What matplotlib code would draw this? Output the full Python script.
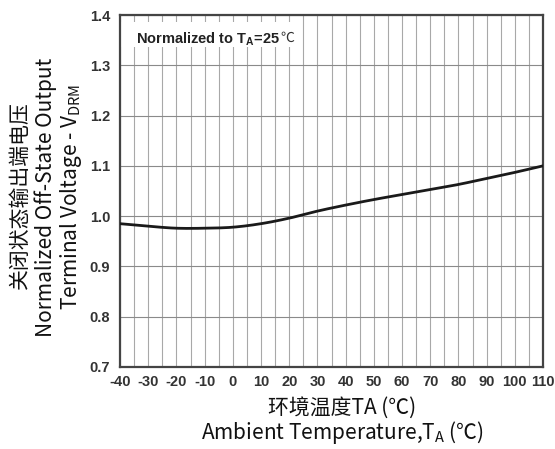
import matplotlib
matplotlib.use("Agg")
import matplotlib.pyplot as plt
from matplotlib.patches import Rectangle
import numpy as np

temps = [-40, -30, -20, -10, 0, 10, 20, 30, 40, 50, 60, 70, 80, 90, 100, 110]
vdrm = [0.985, 0.980, 0.976, 0.976, 0.978, 0.985, 0.996, 1.010, 1.022, 1.033, 1.043, 1.053, 1.063, 1.075, 1.087, 1.100]
xticks = list(range(-40, 111, 10))
yticks = [0.7, 0.8, 0.9, 1.0, 1.1, 1.2, 1.3, 1.4]

plt.rcParams['axes.unicode_minus'] = False
plt.rcParams['mathtext.fontset'] = 'custom'
plt.rcParams['mathtext.rm'] = 'Noto Sans'
plt.rcParams['mathtext.it'] = 'Noto Sans'
plt.rcParams['mathtext.bf'] = 'Liberation Sans:bold'

fig = plt.figure(figsize=(5.55, 4.49), dpi=100)
ax = fig.add_axes([120/555, 1-367/449, (543-120)/555, (367-15)/449])

def hermite(x, y, xs):
    x = np.asarray(x, float); y = np.asarray(y, float)
    out = np.empty_like(xs)
    m = np.gradient(y, x)
    for k, xv in enumerate(xs):
        i = np.searchsorted(x, xv) - 1
        i = min(max(i, 0), len(x) - 2)
        h = x[i+1] - x[i]
        t = (xv - x[i]) / h
        h00 = 2*t**3 - 3*t**2 + 1
        h10 = t**3 - 2*t**2 + t
        h01 = -2*t**3 + 3*t**2
        h11 = t**3 - t**2
        out[k] = h00*y[i] + h10*h*m[i] + h01*y[i+1] + h11*h*m[i+1]
    return out

xs = np.linspace(temps[0], temps[-1], 300)
ax.plot(xs, hermite(temps, vdrm, xs), color='#1a1a1a', lw=2.0, zorder=3)

ax.set_xlim(-40, 110)
ax.set_ylim(0.7, 1.4)
ax.set_xticks(xticks)
ax.set_yticks(yticks)
ax.set_xticks(list(range(-35, 110, 10)), minor=True)
ax.grid(True, which='major', axis='y', color='#8a8a8a', lw=0.8)
ax.grid(True, which='both', axis='x', color='#a8a8a8', lw=0.8)
ax.tick_params(which='both', length=0)
ax.tick_params(axis='x', pad=6)
ax.tick_params(axis='y', pad=7)
for lbl in ax.get_xticklabels() + ax.get_yticklabels():
    lbl.set_fontfamily('Liberation Sans')
    lbl.set_fontweight('bold')
    lbl.set_fontsize(10.5)
    lbl.set_color('#333333')
for s in ax.spines.values():
    s.set_color('#444444')
    s.set_linewidth(1.6)

# white box behind the annotation (axes coordinates)
ax.add_patch(Rectangle((0.0, 0.909), 0.42, 0.071, transform=ax.transAxes,
                       facecolor='white', edgecolor='none', zorder=2))

t1 = ax.text(0.037, 0.955, r'Normalized to T$_\mathbf{A}$=25', transform=ax.transAxes,
             fontsize=10.5, fontweight='bold', family='Liberation Sans', color='#222222',
             va='top', ha='left', zorder=4)
fig.canvas.draw()
bb = t1.get_window_extent()
fig.text((bb.x1 + 1) / fig.bbox.width, bb.y1 / fig.bbox.height, '℃', fontsize=10,
         family=['Noto Sans CJK SC', 'DejaVu Sans'], color='#333333', va='top', ha='left')

fam = ['Noto Sans CJK SC', 'DejaVu Sans']
fs = 15
fig.text(342/555, 1-408/449, '环境温度TA (℃)', ha='center', va='center', fontsize=fs, family=fam, color='#111111')
fig.text(342/555, 1-432/449, r'Ambient Temperature,T$_\mathregular{A}$ (℃)', ha='center', va='center', fontsize=fs, family=fam, color='#111111')

fig.text(20/555, 1-195/449, '关闭状态输出端电压', rotation=90, ha='center', va='center', fontsize=fs, family=fam, color='#111111')
fig.text(46/555, 1-197/449, 'Normalized Off-State Output', rotation=90, ha='center', va='center', fontsize=fs, family=fam, color='#111111')
fig.text(71/555, 1-197/449, r'Terminal Voltage - V$_\mathregular{DRM}$', rotation=90, ha='center', va='center', fontsize=fs, family=fam, color='#111111')

fig.savefig('out.png', dpi=100)
